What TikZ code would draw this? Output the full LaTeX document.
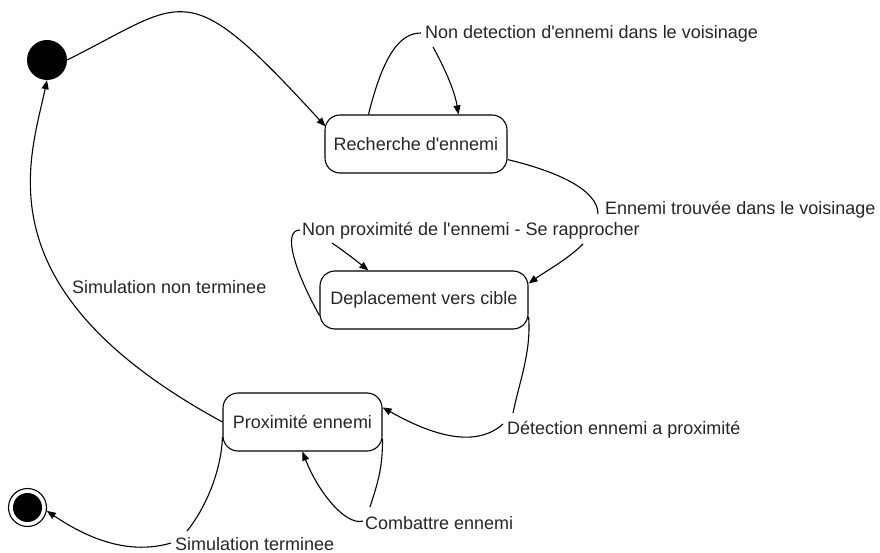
\documentclass[tikz,border=0pt]{standalone}
\usepackage{fontspec}
\setmainfont{Liberation Sans}
\usetikzlibrary{arrows.meta,calc}
\newcommand{\apos}{\textquotesingle}
\begin{document}
\begin{tikzpicture}[x=1pt,y=-1pt,
  font=\fontsize{18}{21}\selectfont,
  statebox/.style={draw, line width=1.1pt, rounded corners=15pt,
    minimum width=#1, minimum height=58pt, inner sep=0pt, text=black!85},
  lbl/.style={inner sep=0pt, anchor=base west, text=black!85},
  flow/.style={line width=1.1pt},
  arr/.style={flow, -{Triangle[length=9pt,width=7pt]}},
]
\useasboundingbox (0,0) rectangle (880,553);

% pseudo-states
\node[circle, fill=black, minimum size=40pt, inner sep=0pt] (init) at (47,60) {};
\node[circle, draw, line width=1.1pt, minimum size=38pt, inner sep=0pt] (fin) at (27.5,507.5) {};
\node[circle, fill=black, minimum size=29pt, inner sep=0pt] (fincore) at (fin.center) {};

% states
\node[statebox=182pt] (rech) at (416,144) {Recherche d\apos ennemi};
\node[statebox=208pt] (dep)  at (424,300) {Deplacement vers cible};
\node[statebox=159pt] (prox) at (302.5,422) {Proximité ennemi};

% transition labels
\node[lbl] (l1) at (425,39)  {Non detection d\apos ennemi dans le voisinage};
\node[lbl] (l2) at (605,215) {Ennemi trouvée dans le voisinage};
\node[lbl] (l3) at (302,236) {Non proximité de l\apos ennemi - Se rapprocher};
\node[lbl] (l4) at (72,293)  {Simulation non terminee};
\node[lbl] (l5) at (507,434) {Détection ennemi a proximité};
\node[lbl] (l6) at (365,529) {Combattre ennemi};
\node[lbl] (l7) at (175,550) {Simulation terminee};

% initial transition
\draw[arr] (init.east) .. controls +(120,-60) and +(-141,-154) .. ($(rech.north west)+(1,12)$);

% searching loop
\draw[flow] ($(rech.north west)+(44,0)$) .. controls +(15,-60) and +(-21,0) .. ($(l1.base west)+(-4,-6)$);
\draw[arr] ($(l1.base west)+(8,8)$) .. controls +(10,18) and +(-4,-25) .. ($(rech.north west)+(134,0)$);

% enemy found
\draw[flow] ($(rech.south east)+(0,-14)$) .. controls +(50,12) and +(0,-24) .. ($(l2.base west)+(-7,-1)$);
\draw[arr] ($(l2.base west)+(-22,29)$) .. controls +(-15,15) and +(20,-14) .. ($(dep.north east)+(0,13)$);

% approaching loop
\draw[flow] ($(dep.south west)+(0,-14)$) .. controls +(-25,-45) and +(-18,0) .. ($(l3.base west)+(-2,-6)$);
\draw[arr] ($(l3.base west)+(30,7)$) .. controls +(12,8) and +(-10,-8) .. ($(dep.north west)+(49,0)$);

% enemy close
\draw[flow] ($(dep.south east)+(0,-13)$) .. controls +(3,35) and +(6,-30) .. ($(l5.base west)+(6,-21)$);
\draw[arr] ($(l5.base west)+(-4,-10)$) .. controls +(-25,22) and +(57,32) .. ($(prox.north east)+(0,15)$);

% fighting loop
\draw[flow] ($(prox.south east)+(0,-13)$) .. controls +(0,30) and +(8,-25) .. ($(l6.base west)+(5,-22)$);
\draw[arr] ($(l6.base west)+(-2,-8)$) .. controls +(-18,5) and +(15,39) .. ($(prox.south west)+(80,0)$);

% simulation over
\draw[flow] ($(prox.south west)+(0,-15)$) .. controls +(-1,35) and +(18,-22) .. ($(l7.base west)+(12,-19)$);
\draw[arr] ($(l7.base west)+(-4,-7)$) .. controls +(-41,12) and +(43,29) .. (fin.-10);

% simulation continues
\draw[arr] (prox.west) .. controls +(-243,-132) and +(-17,80) .. (init.south);
\end{tikzpicture}
\end{document}
